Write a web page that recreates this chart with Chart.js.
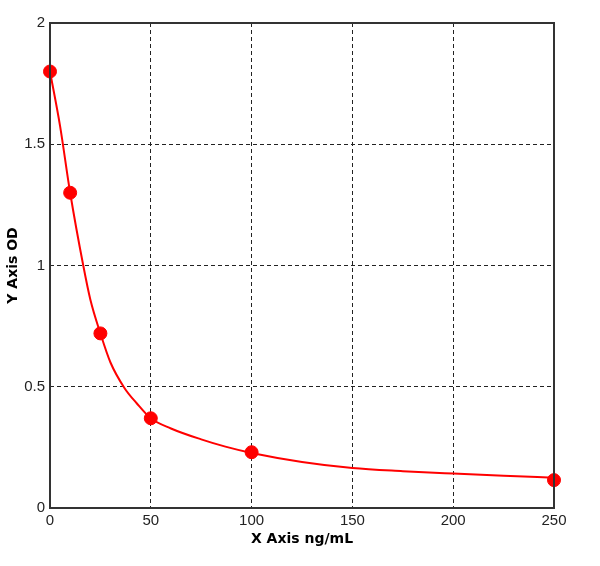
<!DOCTYPE html>
<html>
<head>
<meta charset="utf-8">
<script src="https://cdn.jsdelivr.net/npm/chart.js@4/dist/chart.umd.min.js"></script>
<style>
  html, body { margin: 0; padding: 0; background: #fff; }
  #wrap { width: 600px; height: 566px; }
</style>
</head>
<body>
<div id="wrap"><canvas id="odChart" width="600" height="566"></canvas></div>
<script>
// Standard points (concentration ng/mL vs OD)
const concX = [0, 10, 25, 50, 100, 250];
const odY = [1.80, 1.30, 0.72, 0.37, 0.23, 0.115];

// Fitted curve, values
const curveX = [0, 5, 10, 16.5, 20, 25, 30, 37, 43, 50, 60, 75, 87, 100, 125, 150, 175, 200, 225, 250];
const curveY = [1.80, 1.575, 1.30, 1.00, 0.86, 0.72, 0.60, 0.494, 0.432, 0.37, 0.328, 0.283, 0.253, 0.227, 0.19, 0.165, 0.152, 0.142, 0.133, 0.125];

// Axis ticks
const xTicks = [0, 50, 100, 150, 200, 250];
const yTicks = [0, 0.5, 1, 1.5, 2];

const toPoints = (xs, ys) => xs.map((x, i) => ({ x: x, y: ys[i] }));

// Frame around the plot area (all four sides)
const framePlugin = {
    id: 'frame',
    afterDatasetsDraw(chart) {
        const { ctx, chartArea: a } = chart;
        ctx.save();
        ctx.strokeStyle = '#333';
        ctx.lineWidth = 2;
        ctx.strokeRect(a.left, a.top, a.right - a.left, a.bottom - a.top);
        ctx.restore();
    }
};

// no dashed line on the first/last tick, the frame covers those
const gridColor = ctx => (ctx.index === 0 || ctx.index === ctx.scale.ticks.length - 1) ? 'rgba(0,0,0,0)' : '#222';

const tickFont = { family: 'Liberation Sans', size: 15 };
const titleFont = { family: 'DejaVu Sans', size: 14, weight: 'bold' };

new Chart(document.getElementById('odChart'), {
    type: 'scatter',
    data: {
        datasets: [
            {
                label: 'Standards',
                data: toPoints(concX, odY),
                backgroundColor: '#ff0000',
                borderColor: '#ff0000',
                pointRadius: 6.5,
                pointStyle: 'circle',
                showLine: false,
                clip: false,
                order: 0
            },
            {
                label: 'Curve',
                data: toPoints(curveX, curveY),
                borderColor: '#ff0000',
                borderWidth: 2,
                pointRadius: 0,
                showLine: true,
                cubicInterpolationMode: 'monotone',
                order: 1
            }
        ]
    },
    options: {
        responsive: false,
        animation: false,
        events: [],
        layout: { padding: { top: 23, right: 46, bottom: 18, left: 0 } },
        plugins: {
            legend: { display: false },
            tooltip: { enabled: false }
        },
        scales: {
            x: {
                type: 'linear',
                min: 0,
                max: 250,
                afterBuildTicks: s => { s.ticks = xTicks.map(v => ({ value: v })); },
                afterFit: s => { s.height = 40; },
                border: { display: false, dash: [4, 3] },
                grid: { color: gridColor, lineWidth: 1, drawTicks: false },
                ticks: { color: '#222', font: tickFont, padding: 4, maxRotation: 0, callback: v => String(v) },
                title: { display: true, text: 'X Axis ng/mL', color: '#000', font: titleFont, padding: 0 }
            },
            y: {
                type: 'linear',
                min: 0,
                max: 2,
                afterBuildTicks: s => { s.ticks = yTicks.map(v => ({ value: v })); },
                afterFit: s => { s.width = 50; },
                border: { display: false, dash: [4, 3] },
                grid: { color: gridColor, lineWidth: 1, drawTicks: false },
                ticks: { color: '#222', font: tickFont, padding: 5, callback: v => String(v) },
                title: { display: true, text: 'Y Axis OD', color: '#000', font: titleFont, padding: 5 }
            }
        }
    },
    plugins: [framePlugin]
});
</script>
</body>
</html>
